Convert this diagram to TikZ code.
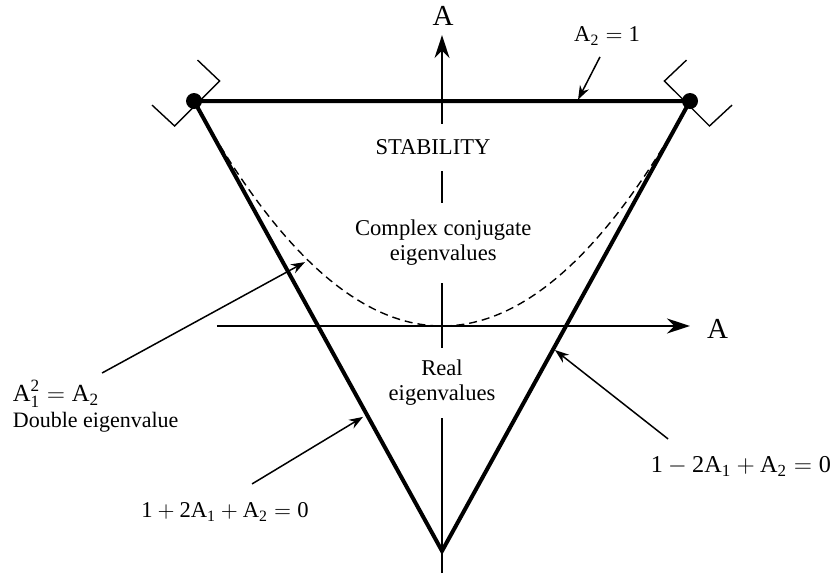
\documentclass[tikz,border=0pt]{standalone}
\usepackage{amsmath}
\usepackage{fontspec}
\setmainfont{Liberation Serif}
\usetikzlibrary{arrows.meta}
\newcommand{\Asub}[1]{\text{A}_{\text{#1}}}
\newcommand{\tn}[1]{\text{#1}}

\begin{document}
\begin{tikzpicture}[x=62pt,y=112.5pt,
    region/.style={font=\fontsize{11.3}{12.5}\selectfont,align=center,inner xsep=2pt},
    eqlbl/.style={font=\fontsize{11.3}{13}\selectfont,inner sep=0.5pt},
    axislbl/.style={font=\fontsize{14.5}{16}\selectfont,inner sep=0pt},
    axisline/.style={line width=1pt},
    bound/.style={line width=2pt},
    pointer/.style={line width=0.75pt,-{Stealth[length=7pt,width=5pt]}}]
  \useasboundingbox (-3.565,-1.111) rectangle (3.129,1.449);
  \pgfmathsetmacro{\vtop}{1.293}\pgfmathsetmacro{\vbot}{-1.098}
  \pgfmathsetmacro{\hl}{-1.815}\pgfmathsetmacro{\hr}{2.0}

  % ---- double eigenvalue parabola A2 = A1^2/4 ------------------------------
  \draw[line width=0.7pt,dash pattern=on 4pt off 2.5pt]
        plot[domain=-2:2,samples=80,smooth] (\x,{\x*\x/4});

  % ---- stability triangle ---------------------------------------------------
  \draw[bound,line join=miter] (-2,1) -- (2,1) -- (0,-1) -- cycle;
  \foreach \s in {-1,1} {
    \fill (\s*2,1) circle (4pt);
    \draw[line width=0.7pt] (\s*2.339,0.982) -- (\s*2.157,0.889)
          -- (\s*1.794,1.089) -- (\s*1.972,1.182);
  }

  % ---- region texts on the A2 axis --------------------------------------------
  \node[region,inner ysep=7.8pt] (stab) at (-0.073,0.793) {STABILITY};
  \node[region,inner ysep=8.4pt] (cplx) at (0.01,0.371) {Complex conjugate\\eigenvalues};
  \node[region,inner ysep=6.15pt] (real) at (0,-0.2533) {Real\\eigenvalues};

  % ---- axes -------------------------------------------------------------------
  \draw[axisline] (0,\vbot) -- (0,0 |- real.south);
  \draw[axisline] (0,0 |- real.north) -- (0,0 |- cplx.south);
  \draw[axisline] (0,0 |- cplx.north) -- (0,0 |- stab.south);
  \draw[axisline,-{Stealth[length=11.5pt,width=7.5pt]}] (0,0 |- stab.north) -- (0,\vtop);
  \draw[axisline,-{Stealth[length=11.5pt,width=7.5pt]}] (\hl,0) -- (\hr,0);
  \node[axislbl] (axv) at (0.008,1.378) {A};
  \node[axislbl] (axh) at (2.222,-0.013) {A};

  % ---- labels and pointers ----------------------------------------------------
  \node[eqlbl] (topeq) at (1.331,1.289) {$\Asub{2} = \tn{1}$};
  \coordinate (toptail) at (1.274,1.196);
  \coordinate (toptip) at (1.097,1.006);
  \draw[pointer] (toptail) -- (toptip);

  \node[eqlbl,font=\fontsize{12.3}{14}\selectfont,anchor=base west] (dbl) at (-3.472,-0.336)
        {$\text{A}_{\text{1}}^{\text{2}} = \Asub{2}$};
  \node[eqlbl,font=\fontsize{11}{13}\selectfont,anchor=base west] (dbltxt) at (-3.472,-0.453)
        {Double eigenvalue};
  \coordinate (dbltail) at (-2.742,-0.209);
  \coordinate (dbltip) at (-1.105,0.284);
  \draw[pointer] (dbltail) -- (dbltip);

  \node[eqlbl,anchor=base] (lefteq) at (-1.75,-0.853)
        {$\tn{1} + \tn{2}\Asub{1} + \Asub{2} = \tn{0}$};
  \coordinate (lefttail) at (-1.532,-0.702);
  \coordinate (lefttip) at (-0.637,-0.404);
  \draw[pointer] (lefttail) -- (lefttip);

  \node[eqlbl,font=\fontsize{12.1}{15}\selectfont,anchor=base] (righteq) at (2.41,-0.653)
        {$\tn{1} - \tn{2}\Asub{1} + \Asub{2} = \tn{0}$};
  \coordinate (righttail) at (1.823,-0.502);
  \coordinate (righttip) at (0.911,-0.107);
  \draw[pointer] (righttail) -- (righttip);
\end{tikzpicture}
\end{document}
